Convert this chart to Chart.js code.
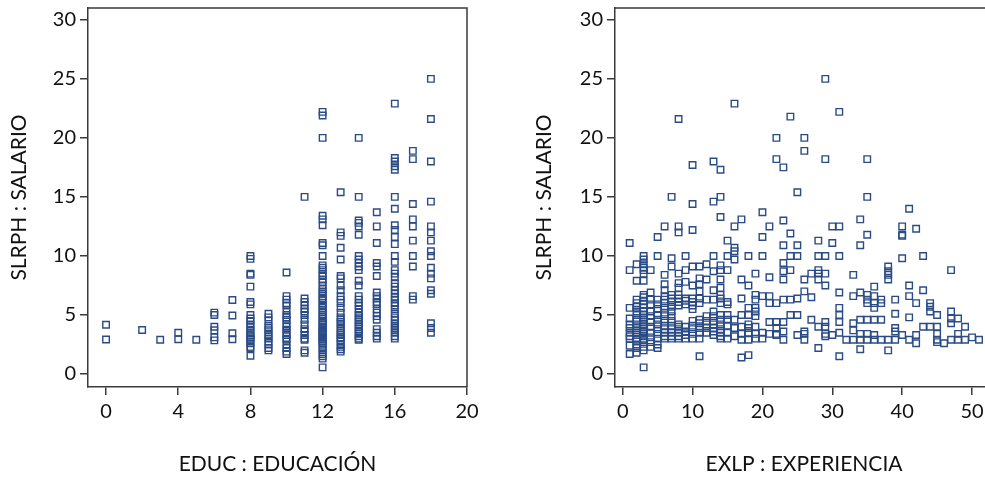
<!DOCTYPE html>
<html>
<head>
<meta charset="utf-8">
<script src="https://cdn.jsdelivr.net/npm/chart.js@4"></script>
<style>
  html, body { margin: 0; padding: 0; background: #fff; overflow: hidden; }
  body { width: 985px; height: 477px; position: relative; }
  #left { position: absolute; left: 0; top: 0; }
  #right { position: absolute; left: 490px; top: 0; }
</style>
</head>
<body>
<canvas id="left" width="490" height="477"></canvas>
<canvas id="right" width="510" height="477"></canvas>
<script>
// educación (años) y salario por hora
var educLevels = [0, 2, 3, 4, 5, 6, 7, 8, 9, 10, 11, 12, 13, 14, 15, 16, 17, 18]
var wageByEduc = [
  [4.17, 2.92],
  [3.73],
  [2.9],
  [3.5, 2.95],
  [2.9],
  [5.2, 5.0, 4.0, 3.7, 3.1, 2.85],
  [6.27, 4.95, 3.45, 2.95],
  [10.0, 9.75, 8.5, 8.4, 7.4, 6.1, 5.9, 5.0, 4.7, 4.5, 4.2, 4.0, 3.75, 3.5, 3.3, 3.1, 3.0, 2.9, 2.6, 2.3, 2.2, 1.55],
  [5.1, 4.8, 4.5, 4.1, 3.9, 3.7, 3.4, 3.2, 3.0, 2.75, 2.5, 2.2, 2.0],
  [8.6, 6.6, 6.3, 6.0, 5.8, 5.4, 5.0, 4.8, 4.6, 4.2, 4.0, 3.75, 3.5, 3.3, 3.0, 2.9, 2.5, 2.2, 1.9, 1.7],
  [15.0, 6.4, 6.1, 5.8, 5.5, 5.3, 5.0, 4.6, 4.2, 3.8, 3.6, 3.3, 3.0, 2.9, 2.0, 1.8],
  [22.2, 21.9, 20.0, 13.4, 13.1, 12.6, 11.1, 10.9, 10.0, 9.2, 9.0, 8.8, 8.5, 8.3, 8.0, 7.8, 7.5, 7.2, 7.0, 6.8, 6.6, 6.4, 6.25, 6.0, 5.8, 5.6, 5.4, 5.2, 5.0, 4.85, 4.7, 4.5, 4.35, 4.2, 4.0, 3.9, 3.75, 3.6, 3.5, 3.35, 3.2, 3.1, 3.0, 2.9, 2.75, 2.6, 2.4, 2.2, 2.0, 1.7, 1.5, 1.3, 0.56],
  [15.4, 12.0, 11.7, 10.7, 9.7, 8.3, 8.1, 7.5, 7.1, 6.6, 6.3, 6.0, 5.6, 5.2, 4.8, 4.6, 4.4, 4.2, 3.9, 3.7, 3.5, 3.3, 3.1, 3.0, 2.8, 2.5, 2.3, 2.1, 1.9],
  [20.0, 15.0, 13.0, 12.8, 12.5, 11.8, 10.0, 9.7, 9.4, 9.1, 8.8, 7.9, 7.5, 6.6, 6.3, 6.0, 5.8, 5.5, 5.2, 5.0, 4.8, 4.6, 4.4, 4.2, 4.0, 3.8, 3.6, 3.4, 3.2, 3.0, 2.9],
  [13.7, 12.5, 11.1, 9.4, 9.1, 8.3, 6.9, 6.6, 6.4, 6.1, 5.9, 5.5, 5.2, 4.9, 4.6, 3.8, 3.5, 3.2, 3.0],
  [22.9, 18.3, 18.0, 17.6, 17.3, 15.0, 14.0, 12.6, 12.2, 11.6, 11.0, 10.0, 9.5, 8.8, 8.5, 8.2, 7.7, 7.4, 7.1, 6.8, 6.5, 6.3, 6.0, 5.8, 5.5, 5.1, 4.8, 4.6, 4.3, 4.1, 3.9, 3.7, 3.5, 3.2, 3.0],
  [18.9, 18.2, 14.4, 13.1, 12.5, 11.3, 10.0, 9.1, 6.6, 6.3],
  [25.0, 21.6, 18.0, 14.6, 12.5, 12.0, 11.3, 10.4, 10.0, 9.0, 8.5, 8.1, 7.1, 6.8, 4.3, 3.9, 3.5]
]

// experiencia (años) y salario por hora
var experYears = [1, 2, 3, 4, 5, 6, 7, 8, 9, 10, 11, 12, 13, 14, 15, 16, 17, 18, 19, 20, 21, 22, 23, 24, 25, 26,
  27, 28, 29, 30, 31, 32, 33, 34, 35, 36, 37, 38, 39, 40, 41, 42, 43, 44, 45, 46, 47, 48, 49, 50, 51]
var wageByExper = [
  [11.1, 8.8, 5.6, 4.7, 4.2, 3.9, 3.5, 3.2, 3.0, 2.4, 1.7],
  [9.3, 7.9, 6.3, 6.0, 5.7, 5.3, 5.0, 4.6, 4.2, 3.9, 3.7, 3.5, 3.3, 3.0, 2.9, 2.5, 2.2, 1.8],
  [10.0, 9.7, 9.3, 9.0, 8.8, 8.5, 7.9, 6.7, 6.5, 6.2, 5.9, 5.6, 5.3, 5.0, 4.8, 4.6, 4.4, 4.2, 4.0, 3.8, 3.6, 3.4, 3.2, 3.0, 2.9, 2.7, 2.3, 2.0, 0.56],
  [8.8, 6.9, 6.3, 5.9, 5.3, 4.9, 4.4, 4.0, 3.5, 3.1, 2.7, 2.3],
  [11.6, 10.0, 6.3, 5.9, 5.5, 5.0, 4.6, 4.2, 3.8, 3.4, 3.0, 2.5, 2.2],
  [12.5, 8.4, 7.6, 7.1, 6.6, 6.3, 6.0, 5.6, 5.2, 4.9, 4.5, 4.1, 3.8, 3.5, 3.2, 3.0],
  [15.0, 9.8, 9.1, 6.7, 6.4, 6.1, 5.7, 5.3, 4.9, 4.5, 4.1, 3.8, 3.5, 3.2, 3.0],
  [21.6, 12.5, 12.0, 8.5, 7.7, 7.3, 6.7, 6.4, 6.1, 5.8, 4.2, 4.0, 3.8, 3.5, 3.2, 3.0],
  [10.0, 8.8, 7.8, 6.4, 6.2, 5.9, 4.0, 3.6, 3.3, 3.0],
  [17.7, 14.4, 12.2, 9.1, 7.5, 6.4, 6.1, 5.8, 5.5, 4.5, 4.1, 3.8, 3.4, 3.0],
  [9.1, 8.1, 7.6, 7.0, 6.4, 6.0, 4.6, 4.3, 3.9, 3.5, 3.0, 1.5],
  [9.3, 8.0, 6.3, 4.9, 4.5, 4.2, 3.9, 3.5],
  [18.0, 14.6, 10.0, 8.7, 7.1, 6.3, 5.3, 4.9, 4.5, 4.2, 3.9, 3.6, 3.3],
  [17.3, 15.0, 13.3, 9.2, 8.8, 8.0, 7.3, 6.7, 6.4, 6.0, 5.0, 4.6, 4.2, 3.8, 3.5, 3.2, 3.0],
  [11.3, 10.0, 8.8, 6.1, 5.9, 5.0, 4.6, 4.1, 3.5, 3.0],
  [22.9, 12.5, 10.7, 10.4, 9.7, 4.6, 3.9, 3.2],
  [13.1, 8.0, 6.4, 5.0, 4.0, 3.4, 2.9, 1.4],
  [10.0, 7.5, 5.6, 5.0, 4.2, 3.9, 3.5, 2.9, 1.6],
  [8.5, 6.7, 6.3, 5.6, 5.3, 4.9, 4.0, 3.4, 3.0],
  [13.7, 11.6, 10.0, 6.6, 3.5, 3.0],
  [12.5, 8.2, 6.6, 6.0, 4.4, 3.4],
  [20.0, 18.2, 6.0, 4.4, 3.9, 3.4, 3.3],
  [17.5, 13.0, 10.9, 9.4, 8.7, 8.0, 6.3, 4.4, 3.6, 2.9],
  [21.8, 11.9, 10.0, 8.8, 6.3, 5.0],
  [15.4, 10.9, 10.0, 6.4, 5.0, 3.3],
  [20.0, 18.9, 8.0, 7.0, 3.6, 3.4, 2.9],
  [8.5, 6.5, 4.6],
  [11.3, 10.0, 8.8, 8.5, 8.0, 4.0, 2.2],
  [25.0, 18.2, 10.0, 8.5, 7.5, 4.4, 4.0, 3.4, 3.2],
  [12.5, 11.1, 3.3],
  [22.2, 12.5, 10.0, 6.9, 5.6, 5.0, 4.4, 3.5, 1.5],
  [2.9],
  [8.4, 6.6, 4.3, 3.7, 2.9],
  [13.1, 10.9, 6.9, 4.6, 3.4, 2.9, 2.1],
  [18.2, 15.0, 11.8, 6.7, 6.3, 6.0, 4.6, 3.4, 2.9],
  [7.4, 6.6, 6.0, 5.6, 4.6, 3.3, 2.9],
  [6.3, 6.0, 4.6, 2.9],
  [9.1, 8.7, 8.4, 8.0, 2.9, 2.0],
  [6.3, 5.1, 3.9, 3.6, 2.9],
  [12.5, 11.8, 11.7, 9.8, 3.3],
  [14.0, 7.5, 6.6, 4.8, 2.9],
  [12.3, 6.0, 3.3, 2.6],
  [10.0, 7.1, 4.0],
  [6.0, 5.7, 5.3, 4.0],
  [5.0, 4.0, 3.4, 2.9, 2.7],
  [2.6],
  [8.8, 5.3, 4.7, 4.3, 2.9],
  [4.7, 3.4, 2.9],
  [4.0, 2.9],
  [3.1],
  [2.9]
]

var yTicks = [0, 5, 10, 15, 20, 25, 30]
var educTicks = [0, 4, 8, 12, 16, 20]
var experTicks = [0, 10, 20, 30, 40, 50]

var FONT = 'Lato'
var INK = '#111'
var FRAME = '#3a3a3a'
var MARK = '#2a4b85'

function toPoints (cats, groups) {
  var pts = []
  cats.forEach(function (c, i) {
    groups[i].forEach(function (w) { pts.push({ x: c, y: w }) })
  })
  return pts
}

// marco superior y derecho del área de trazado
var framePlugin = {
  id: 'frame',
  afterDraw: function (chart) {
    var a = chart.chartArea
    var ctx = chart.ctx
    ctx.save()
    ctx.strokeStyle = FRAME
    ctx.lineWidth = 1.5
    ctx.beginPath()
    ctx.moveTo(a.left, a.top)
    ctx.lineTo(a.right, a.top)
    ctx.lineTo(a.right, a.bottom)
    ctx.stroke()
    ctx.restore()
  }
}

function makeChart (canvas, pts, xr, xTicks, yAxisW, yTitlePad, xTitle, rightPad) {
  return new Chart(canvas, {
    type: 'scatter',
    data: {
      datasets: [{
        data: pts,
        pointStyle: 'rect',
        radius: 4.6,
        hoverRadius: 4.6,
        borderWidth: 1.4,
        borderColor: MARK,
        backgroundColor: 'rgba(0,0,0,0)'
      }]
    },
    options: {
      responsive: false,
      animation: false,
      events: [],
      layout: { padding: { top: 8, right: rightPad, left: 0, bottom: 0 } },
      plugins: { legend: { display: false }, tooltip: { enabled: false } },
      scales: {
        x: {
          type: 'linear',
          min: xr[0],
          max: xr[1],
          afterBuildTicks: function (s) { s.ticks = xTicks.map(function (v) { return { value: v } }) },
          afterFit: function (s) { s.height = 90; s.paddingLeft = 0; s.paddingRight = 0 },
          border: { display: true, color: FRAME, width: 1.5 },
          grid: { display: true, drawOnChartArea: false, drawTicks: true, tickLength: 8, color: FRAME, lineWidth: 1.5 },
          ticks: { color: INK, font: { family: FONT, size: 20 }, padding: 5, maxRotation: 0 },
          title: { display: true, text: xTitle, color: INK, font: { family: FONT, size: 21 }, padding: { top: 0, bottom: 0 } }
        },
        y: {
          type: 'linear',
          min: -1.1,
          max: 31,
          afterBuildTicks: function (s) { s.ticks = yTicks.map(function (v) { return { value: v } }) },
          afterFit: function (s) { s.width = yAxisW; s.paddingTop = 0; s.paddingBottom = 0 },
          border: { display: true, color: FRAME, width: 1.5 },
          grid: { display: true, drawOnChartArea: false, drawTicks: true, tickLength: 8, color: FRAME, lineWidth: 1.5 },
          ticks: { color: INK, font: { family: FONT, size: 20 }, padding: 4 },
          title: { display: true, text: 'SLRPH : SALARIO', color: INK, font: { family: FONT, size: 21 }, padding: { top: yTitlePad, bottom: 0 } }
        }
      }
    },
    plugins: [framePlugin]
  })
}

makeChart(document.getElementById('left'), toPoints(educLevels, wageByEduc),
  [-1, 20], educTicks, 88, 7, 'EDUC : EDUCACIÓN', 23)
makeChart(document.getElementById('right'), toPoints(experYears, wageByExper),
  [-1.1, 53], experTicks, 125, 42, 'EXLP : EXPERIENCIA', 7)
</script>
</body>
</html>
